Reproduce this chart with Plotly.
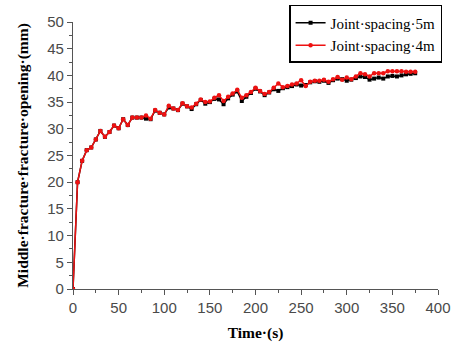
import plotly.graph_objects as go

time_s = list(range(0, 380, 5))

spacing_4m = [0, 20, 24, 26, 26.5, 28, 29.6, 28.5, 29.4, 30.6, 30.1, 31.8, 30.7, 32.1, 32.1, 32.1,
              32.5, 31.9, 33.5, 33, 32.7, 34.3, 33.8, 33.5, 34.8, 34.2, 34, 34.7, 35.5, 35, 35.1,
              35.8, 36.3, 35.2, 36, 36.6, 37.3, 35.8, 36.3, 36.9, 37.7, 37.1, 36.5, 36.9, 37.7,
              38.5, 37.8, 38, 38.3, 38.5, 39.1, 38, 38.8, 39, 39, 39.2, 38.8, 39.3, 39.7, 39.2,
              39.6, 39.3, 39.8, 40.4, 40.2, 39.8, 40.4, 40.4, 40.4, 40.8, 40.8, 40.8, 40.8, 40.7,
              40.7, 40.7]

spacing_5m = [0, 20, 24, 26, 26.5, 28, 29.6, 28.5, 29.4, 30.6, 30.1, 31.8, 30.7, 32.1, 32.1, 32.1,
              31.9, 31.8, 33.4, 33, 32.7, 34, 33.8, 33.5, 34.7, 34.2, 33.7, 34.6, 35.4, 34.7, 35,
              35.6, 35.5, 34.6, 35.7, 36.4, 37.0, 35.2, 36, 36.7, 37.5, 37, 36.3, 36.8, 37.4,
              37.1, 37.6, 37.8, 38, 38.3, 38.1, 38.2, 38.7, 38.9, 38.8, 39.0, 38.6, 39.1, 39.4, 39.3,
              39, 39.2, 39.5, 39.8, 39.7, 39.2, 39.4, 39.6, 39.4, 39.8, 39.9, 39.8, 40.0, 40.2,
              40.3, 40.4]

names = ["Joint·spacing·5m", "Joint·spacing·4m"]

fig = go.Figure()
fig.add_trace(go.Scatter(x=time_s, y=spacing_5m, mode="lines+markers", name=names[0],
                         line=dict(color="black", width=1.5),
                         marker=dict(symbol="square", size=4, color="black")))
fig.add_trace(go.Scatter(x=time_s, y=spacing_4m, mode="lines+markers", name=names[1],
                         line=dict(color="#ee1111", width=1.5),
                         marker=dict(symbol="circle", size=4.5, color="#ee1111")))

tickfont = dict(family="Liberation Sans, Arial", size=15, color="#4a4a4a")
titlefont = dict(family="Liberation Serif, Times New Roman", size=15.5, color="black")

fig.update_layout(
    width=454, height=347,
    margin=dict(l=73, r=16, t=22, b=58, autoexpand=False),
    paper_bgcolor="white", plot_bgcolor="white",
    showlegend=True,
    legend=dict(x=0.592, y=1.064, xanchor="left", yanchor="top",
                bordercolor="black", borderwidth=1.5, bgcolor="white",
                font=dict(family="Liberation Serif, Times New Roman", size=15, color="black"),
                tracegroupgap=0, itemwidth=30),
    xaxis=dict(range=[0, 400], tickmode="linear", tick0=0, dtick=50,
               showgrid=False, zeroline=False, showline=True, linecolor="#555555", linewidth=1.2,
               ticks="outside", ticklen=5, tickcolor="#555555",
               minor=dict(ticks="outside", ticklen=3, tickcolor="#555555", dtick=25),
               tickfont=tickfont, automargin=False,
               title=dict(text="<b>Time·(s)</b>", font=titlefont, standoff=12)),
    yaxis=dict(range=[0, 50], tickmode="linear", tick0=0, dtick=5,
               showgrid=False, zeroline=False, showline=True, linecolor="#555555", linewidth=1.2,
               ticks="outside", ticklen=5, tickcolor="#555555",
               minor=dict(ticks="outside", ticklen=3, tickcolor="#555555", dtick=2.5),
               tickfont=tickfont, automargin=False,
               title=dict(text="<b>Middle·fracture·fracture·opening·(mm)</b>", font=titlefont, standoff=14)),
)

fig.write_html("out.html")
